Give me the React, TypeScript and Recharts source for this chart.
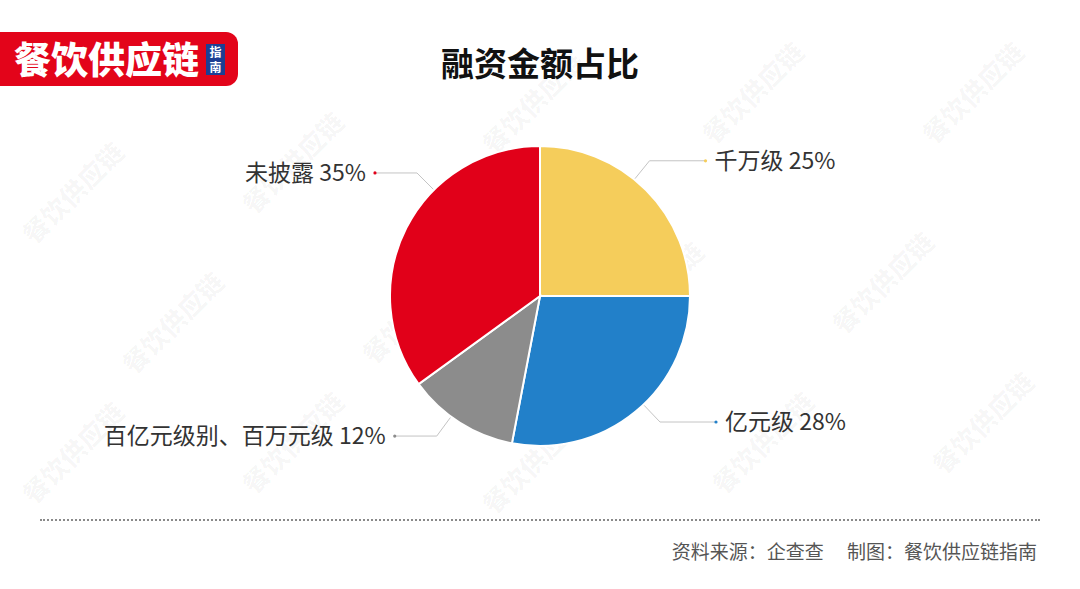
import { PieChart, Pie, Cell } from "recharts";

const categories = ["千万级", "亿元级", "百亿元级别、百万元级", "未披露"];
const shares = [25, 28, 12, 35];
const sliceColors = ["#F5CD5B", "#2280C9", "#8C8C8C", "#E10019"];

const title = "融资金额占比";
const sourceNote = "资料来源：企查查　 制图：餐饮供应链指南";

const data = categories.map((name, i) => ({ name, value: shares[i] }));

// label placement tweaks (degrees) so the leader lines sit like the original
const labelNudge = [6, 4, -4, -18];
const RADIAN = Math.PI / 180;
const FONT = "'Noto Sans CJK SC', 'Noto Sans', sans-serif";

const renderLabel = (props: any) => {
    const { cx, cy, midAngle, outerRadius, index, name, value } = props;
    const a = (midAngle + labelNudge[index]) * RADIAN;
    const sx = cx + (outerRadius + 1) * Math.cos(-a);
    const sy = cy + (outerRadius + 1) * Math.sin(-a);
    const ex = cx + (outerRadius + 24) * Math.cos(-a);
    const ey = cy + (outerRadius + 24) * Math.sin(-a);
    const right = Math.cos(-a) >= 0;
    const dx = ex + (right ? 56 : -42);
    const tx = dx + (right ? 9 : -9);
    return (
        <g>
            <polyline
                points={`${sx},${sy} ${ex},${ey} ${dx},${ey}`}
                fill="none"
                stroke="#c4c4c4"
                strokeWidth={1}
            />
            <circle cx={dx} cy={ey} r={1.6} fill={sliceColors[index]} />
            <text
                x={tx}
                y={ey}
                dy={8}
                textAnchor={right ? "start" : "end"}
                fill="#333"
                fontSize={23}
                fontFamily={FONT}
            >
                {`${name} ${value}%`}
            </text>
        </g>
    );
};

// faint diagonal watermark, kept fully inside the frame
const watermarkSpots = [
    [80, 200], [300, 170], [540, 110], [760, 100], [980, 100],
    [180, 330], [420, 320], [660, 300], [890, 290],
    [80, 460], [300, 450], [540, 470], [770, 450], [990, 430],
];

export default function App() {
    return (
        <div
            style={{
                position: "absolute",
                left: 0,
                top: 0,
                width: 1080,
                height: 589,
                background: "#fff",
                overflow: "hidden",
                fontFamily: FONT,
            }}
        >
            <svg
                width={1080}
                height={589}
                style={{ position: "absolute", left: 0, top: 0, pointerEvents: "none" }}
            >
                {watermarkSpots.map(([x, y], i) => (
                    <text
                        key={i}
                        x={x}
                        y={y}
                        transform={`rotate(-45 ${x} ${y})`}
                        fontSize={26}
                        fontWeight={900}
                        fontFamily={FONT}
                        fill="#000"
                        fillOpacity={0.035}
                        textAnchor="middle"
                    >
                        餐饮供应链
                    </text>
                ))}
            </svg>

            {/* logo */}
            <div
                style={{
                    position: "absolute",
                    left: 0,
                    top: 32,
                    width: 238,
                    height: 54,
                    background: "#E3041A",
                    borderRadius: "0 12px 12px 0",
                }}
            >
                <div
                    style={{
                        position: "absolute",
                        left: 14,
                        top: 3,
                        color: "#fff",
                        fontSize: 37,
                        fontWeight: 900,
                        lineHeight: "46px",
                    }}
                >
                    餐饮供应链
                </div>
                <div
                    style={{
                        position: "absolute",
                        left: 206,
                        top: 12,
                        width: 19,
                        height: 31,
                        background: "#1C3F94",
                        color: "#fff",
                        fontSize: 12,
                        fontWeight: 700,
                        lineHeight: "15px",
                        textAlign: "center",
                    }}
                >
                    指<br />南
                </div>
            </div>

            <div
                style={{
                    position: "absolute",
                    left: 0,
                    width: 1080,
                    top: 40,
                    textAlign: "center",
                    fontSize: 33,
                    fontWeight: 700,
                    color: "#111",
                    lineHeight: "44px",
                }}
            >
                {title}
            </div>

            <PieChart
                width={1080}
                height={589}
                margin={{ top: 0, right: 0, bottom: 0, left: 0 }}
                style={{ position: "absolute", left: 0, top: 0 }}
            >
                <Pie
                    data={data}
                    dataKey="value"
                    nameKey="name"
                    cx={540}
                    cy={296}
                    outerRadius={150}
                    startAngle={90}
                    endAngle={-270}
                    stroke="#fff"
                    strokeWidth={2}
                    labelLine={false}
                    label={renderLabel}
                    isAnimationActive={false}
                >
                    {data.map((d, i) => (
                        <Cell key={d.name} fill={sliceColors[i]} />
                    ))}
                </Pie>
            </PieChart>

            <div
                style={{
                    position: "absolute",
                    left: 40,
                    top: 519,
                    width: 1000,
                    borderTop: "2px dotted #8a8a8a",
                }}
            />
            <div
                style={{
                    position: "absolute",
                    right: 43,
                    top: 538,
                    fontSize: 19,
                    color: "#555",
                    lineHeight: "26px",
                    whiteSpace: "pre",
                }}
            >
                {sourceNote}
            </div>
        </div>
    );
}
